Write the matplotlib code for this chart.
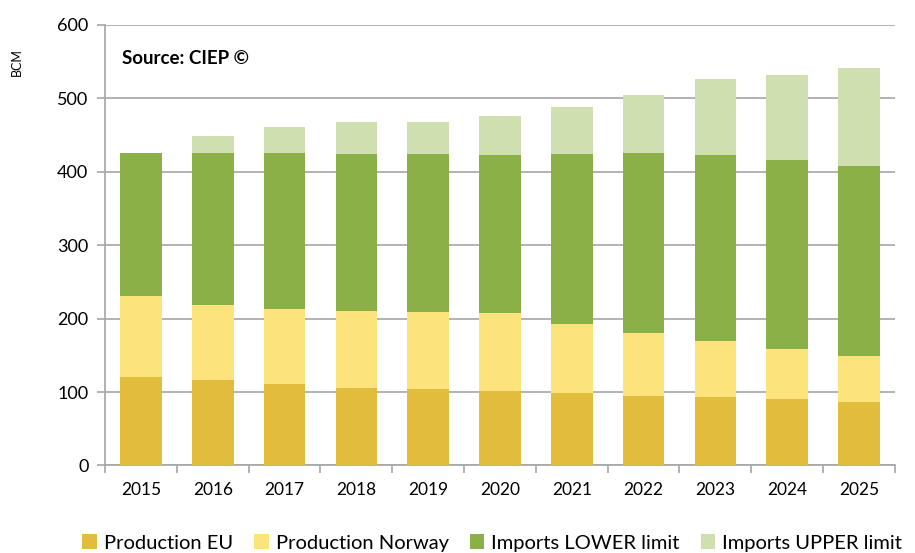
import matplotlib
matplotlib.use("Agg")
import matplotlib.pyplot as plt
from matplotlib.patches import Patch
import numpy as np

plt.rcParams['font.family'] = ['Lato', 'DejaVu Sans']

years = ['2015', '2016', '2017', '2018', '2019', '2020', '2021', '2022', '2023', '2024', '2025']
production_eu = [121, 117, 111, 106, 104, 101, 98, 95, 93, 90, 87]
production_norway = [110, 102, 102, 105, 105, 106, 95, 85, 77, 69, 62]
imports_lower = [194, 207, 212, 213, 215, 216, 231, 245, 253, 257, 259]
imports_upper = [0, 23, 36, 44, 44, 53, 64, 80, 103, 116, 133]

series = [
    ('Production EU', production_eu, '#E2BC3C'),
    ('Production Norway', production_norway, '#FCE37C'),
    ('Imports LOWER limit', imports_lower, '#8BB048'),
    ('Imports UPPER limit', imports_upper, '#CFDFB0'),
]

fig = plt.figure(figsize=(9.15, 5.53), dpi=100)
ax = fig.add_axes([0.1148, 0.1584, 0.978 - 0.1148, 0.9548 - 0.1584])

x = np.arange(len(years))
bottom = np.zeros(len(years))
handles = []
for name, vals, col in series:
    v = np.array(vals, dtype=float)
    ax.bar(x, v, width=0.58, bottom=bottom, color=col, edgecolor='none', zorder=3)
    bottom += v
    handles.append(Patch(facecolor=col, edgecolor='none', label=name))

ax.set_xlim(-0.5, len(years) - 0.5)
ax.set_ylim(0, 600)
ax.set_yticks(range(0, 601, 100))
ax.yaxis.grid(True, color='#A6A6A6', linewidth=1.2, zorder=0)
ax.set_axisbelow(True)

ax.set_xticks(x)
ax.set_xticklabels(years)
ax.set_xticks(np.arange(-0.5, len(years), 1.0), minor=True)
ax.tick_params(axis='x', which='major', length=0, labelsize=12.5, pad=12, colors='#000000')
ax.tick_params(axis='x', which='minor', length=6, color='#A6A6A6', width=1.2)
ax.tick_params(axis='y', length=6, color='#A6A6A6', width=1.2, labelsize=13, pad=6)

for s in ['top', 'right']:
    ax.spines[s].set_visible(False)
for s in ['left', 'bottom']:
    ax.spines[s].set_color('#A6A6A6')
    ax.spines[s].set_linewidth(1.2)

ax.text(0.022, 0.925, 'Source: CIEP ©', transform=ax.transAxes, fontsize=13.5,
        fontweight='bold', va='center', ha='left')

fig.text(17 / 915, 1 - 62 / 553, 'BCM', rotation=90, fontsize=9, ha='center', va='center')

fig.legend(handles=handles, loc='center', bbox_to_anchor=(0.538, 1 - 543 / 553), ncol=4,
           frameon=False, fontsize=14.5, handlelength=0.72, handleheight=0.72,
           handletextpad=0.35, columnspacing=1.05, borderaxespad=0)

fig.savefig('out.png', dpi=100)
